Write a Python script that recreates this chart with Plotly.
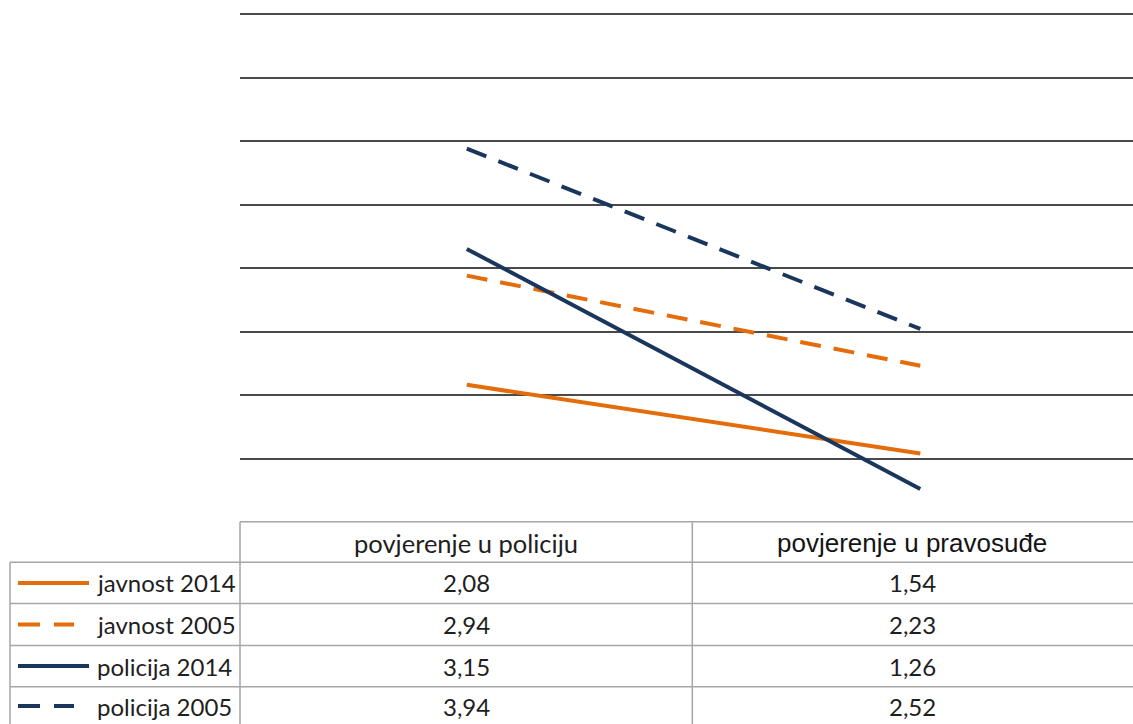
import plotly.graph_objects as go

categories = ["povjerenje u policiju", "povjerenje u pravosuđe"]
series_names = ["javnost 2014", "javnost 2005", "policija 2014", "policija 2005"]
javnost_2014 = [2.08, 1.54]
javnost_2005 = [2.94, 2.23]
policija_2014 = [3.15, 1.26]
policija_2005 = [3.94, 2.52]
y_grid = [1.5, 2.0, 2.5, 3.0, 3.5, 4.0, 4.5, 5.0]

series_values = [javnost_2014, javnost_2005, policija_2014, policija_2005]
ORANGE = "#E46C0A"
NAVY = "#1B365D"
colors = [ORANGE, ORANGE, NAVY, NAVY]
dashes = ["solid", "21px,13px", "solid", "21px,13px"]

W, H = 1133, 724
L, R, T, B = 240, 0, 8, 202
PW = W - L - R
PH = H - T - B


def xp(px):
    return (px - L) / PW


def yp(py):
    return (H - B - py) / PH


fig = go.Figure()
for name, vals, c, d in zip(series_names, series_values, colors, dashes):
    fig.add_trace(go.Scatter(
        x=categories, y=vals, mode="lines", name=name,
        line=dict(color=c, width=4, dash=d), showlegend=False,
        hoverinfo="skip",
    ))

BORDER = "#A6A6A6"
shapes = []


def hline(x0, x1, y):
    shapes.append(dict(type="line", xref="paper", yref="paper",
                       x0=xp(x0), x1=xp(x1), y0=yp(y), y1=yp(y),
                       line=dict(color=BORDER, width=1.5)))


def vline(x, y0, y1):
    shapes.append(dict(type="line", xref="paper", yref="paper",
                       x0=xp(x), x1=xp(x), y0=yp(y0), y1=yp(y1),
                       line=dict(color=BORDER, width=1.5)))


row_edges = [521.7, 562.3, 603.5, 645.5, 686.7, 728.0]
col_left, col_a, col_b, col_right = 10, 240, 692.3, 1133
hline(col_a, col_right, row_edges[0])
for ry in row_edges[1:5]:
    hline(col_left, col_right, ry)
vline(col_a, row_edges[0], H + 5)
vline(col_b, row_edges[0], H + 5)
vline(col_left, row_edges[1], H + 5)

annotations = []
TEXT = "#1e1e1e"
col_centers = [466, 912]
header_fonts = [dict(family="Lato", size=25.5, color=TEXT),
                dict(family="Liberation Sans", size=26, color="#141414")]
for cx, cat, f in zip(col_centers, categories, header_fonts):
    annotations.append(dict(x=xp(cx), y=yp((row_edges[0] + row_edges[1]) / 2 + 1),
                            xref="paper", yref="paper", text=cat, showarrow=False,
                            xanchor="center", yanchor="middle", font=f))

for i, (name, vals, c, d) in enumerate(zip(series_names, series_values, colors, dashes)):
    cy = (row_edges[i + 1] + row_edges[i + 2]) / 2
    if i == 3:
        cy = 706
    if d == "solid":
        shapes.append(dict(type="line", xref="paper", yref="paper",
                           x0=xp(18), x1=xp(89), y0=yp(cy), y1=yp(cy),
                           line=dict(color=c, width=4)))
    else:
        shapes.append(dict(type="line", xref="paper", yref="paper",
                           x0=xp(18), x1=xp(74), y0=yp(cy), y1=yp(cy),
                           line=dict(color=c, width=4, dash="22px,14px")))
    annotations.append(dict(x=xp(95), y=yp(cy), xref="paper", yref="paper",
                            text=name, showarrow=False, xanchor="left", yanchor="middle",
                            font=dict(family="Lato", size=24, color=TEXT)))
    for cx, v in zip(col_centers, vals):
        annotations.append(dict(x=xp(cx), y=yp(cy), xref="paper", yref="paper",
                                text=f"{v:.2f}".replace(".", ","), showarrow=False,
                                xanchor="center", yanchor="middle",
                                font=dict(family="Lato", size=24, color=TEXT)))

fig.update_layout(
    width=W, height=H,
    margin=dict(l=L, r=R, t=T, b=B, pad=0),
    paper_bgcolor="white", plot_bgcolor="white",
    xaxis=dict(type="category", range=[-0.5, 1.469], showticklabels=False,
               showgrid=False, zeroline=False, showline=False, ticks=""),
    yaxis=dict(range=[1, 5 + 6 / 127], tickvals=y_grid, showticklabels=False,
               showgrid=True, gridcolor="#4A4A4A", gridwidth=1.5,
               zeroline=False, showline=False, ticks=""),
    shapes=shapes, annotations=annotations,
)

fig.write_html("out.html", config={"displayModeBar": False},
               post_script="document.body.style.margin='0';document.body.style.overflow='hidden';")
